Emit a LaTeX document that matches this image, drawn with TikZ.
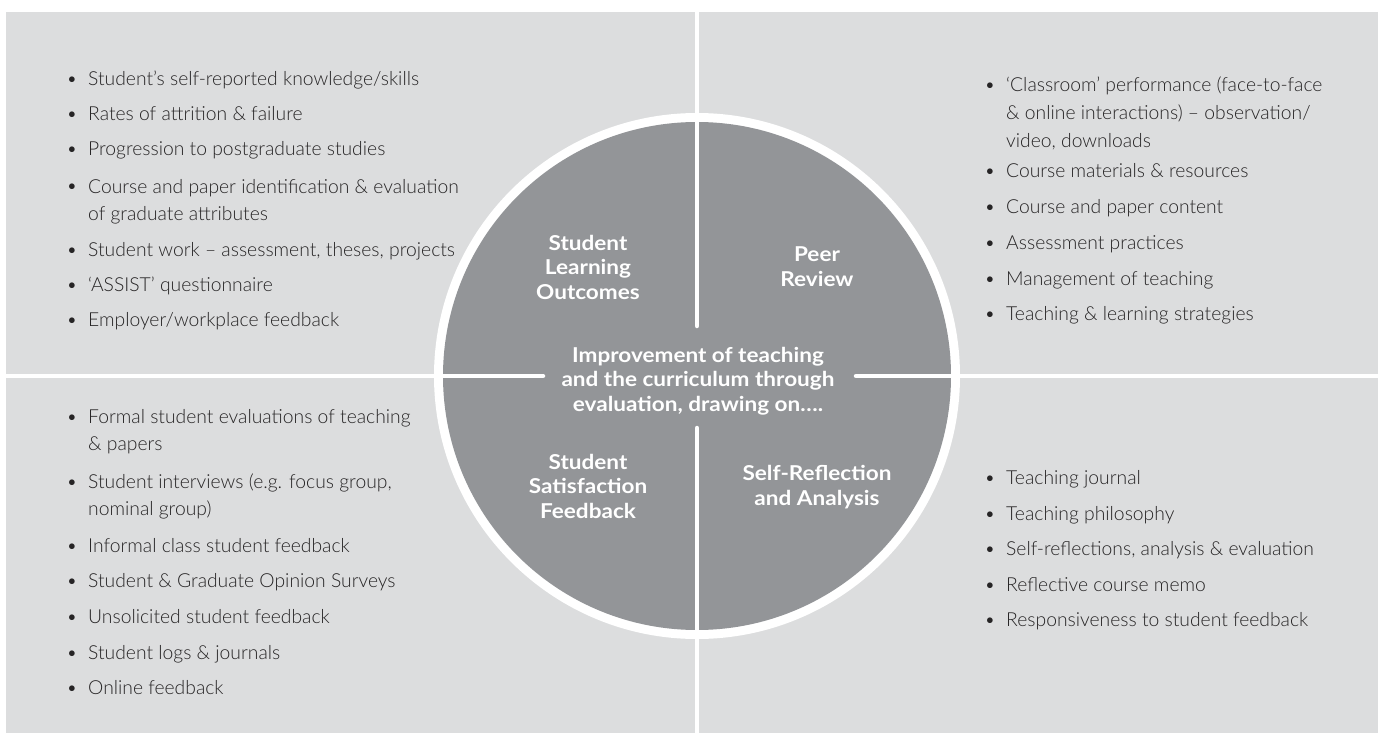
\documentclass[tikz,border=0pt]{standalone}
\usepackage{fontspec}
\setmainfont{Lato}[UprightFont=* Light, BoldFont=* Bold]
\newfontfamily\labelfont{Lato}[UprightFont=* Bold, FakeStretch=1.1]
\definecolor{panelgrey}{HTML}{DCDDDE}
\definecolor{discgrey}{HTML}{939598}
\definecolor{inkgrey}{HTML}{262425}
\tikzset{
  panel/.style={fill=panelgrey, draw=none},
  itemtxt/.style={anchor=base west, inner sep=0pt, align=left, text=inkgrey,
    font=\fontsize{19.3}{27.5}\selectfont},
  bul/.style={anchor=base, inner sep=0pt, text=inkgrey, font=\fontsize{19.3}{27.5}\selectfont},
  seclabel/.style={anchor=base, inner sep=0pt, align=center, text=white,
    font=\labelfont\fontsize{20.5}{24.5}\selectfont},
  divider/.style={white, line width=4.5pt, line cap=round}
}
% one bullet point: name, x, baseline of first line, number of lines, text
\newcommand\bitem[5]{%
  \node[itemtxt] (#1) at (#2,{#3+(#4-1)*27.5}) {#5};
  \node[bul] (#1b) at (#2-16,#3) {\textbullet};}
\begin{document}
\begin{tikzpicture}[x=1pt, y=-1pt]
% page and the four quadrant panels
\fill[white] (0,0) rectangle (1384,733);
\fill[panel] (6,12) rectangle (695,373.5);
\fill[panel] (699,12) rectangle (1378,373.5);
\fill[panel] (6,378) rectangle (695,733);
\fill[panel] (699,378) rectangle (1378,733);

% central disc with white rim and dividing cross
\coordinate (c) at (697,376);
\fill[white] (c) circle[radius=263];
\fill[discgrey] (c) circle[radius=254];
\coordinate (vt) at (697,118);
\coordinate (vtu) at (697,326);
\coordinate (vbl) at (697,428);
\coordinate (vb) at (697,634);
\coordinate (hl) at (438,376);
\coordinate (hlr) at (543,376);
\coordinate (hrl) at (856,376);
\coordinate (hr) at (956,376);
\draw[divider] (vt) -- (vtu);
\draw[divider] (vbl) -- (vb);
\draw[divider] (hl) -- (hlr);
\draw[divider] (hrl) -- (hr);

% labels inside the disc (anchored at the baseline of their last line)
\node[seclabel] (slo) at (588,299) {Student\\Learning\\Outcomes};
\node[seclabel] (peer) at (817,286) {Peer\\Review};
\node[seclabel] (core) at (698,411) {Improvement of teaching\\and the curriculum through\\evaluation, drawing on….};
\node[seclabel] (ssf) at (588,518) {Student\\Satisfaction\\Feedback};
\node[seclabel] (sra) at (817,505) {Self-Reflection\\and Analysis};

% top left: student learning outcomes
\bitem{tl1}{88}{86}{1}{Student’s self-reported knowledge/skills}
\bitem{tl2}{88}{121}{1}{Rates of attrition \& failure}
\bitem{tl3}{88}{156}{1}{Progression to postgraduate studies}
\bitem{tl4}{88}{193}{2}{Course and paper identification \& evaluation\\of graduate attributes}
\bitem{tl5}{88}{256}{1}{Student work – assessment, theses, projects}
\bitem{tl6}{88}{291}{1}{‘ASSIST’ questionnaire}
\bitem{tl7}{88}{326}{1}{Employer/workplace feedback}

% top right: peer review
\bitem{tr1}{1006}{92}{3}{‘Classroom’ performance (face-to-face\\\& online interactions) – observation/\\video, downloads}
\bitem{tr2}{1006}{177}{1}{Course materials \& resources}
\bitem{tr3}{1006}{213}{1}{Course and paper content}
\bitem{tr4}{1006}{249}{1}{Assessment practices}
\bitem{tr5}{1006}{285}{1}{Management of teaching}
\bitem{tr6}{1006}{320}{1}{Teaching \& learning strategies}

% bottom left: student satisfaction feedback
\bitem{bl1}{88}{423}{2}{Formal student evaluations of teaching\\\& papers}
\bitem{bl2}{88}{488}{2}{Student interviews (e.g. focus group,\\nominal group)}
\bitem{bl3}{88}{552}{1}{Informal class student feedback}
\bitem{bl4}{88}{587}{1}{Student \& Graduate Opinion Surveys}
\bitem{bl5}{88}{623}{1}{Unsolicited student feedback}
\bitem{bl6}{88}{659}{1}{Student logs \& journals}
\bitem{bl7}{88}{694}{1}{Online feedback}

% bottom right: self-reflection and analysis
\bitem{br1}{1006}{484}{1}{Teaching journal}
\bitem{br2}{1006}{520}{1}{Teaching philosophy}
\bitem{br3}{1006}{555}{1}{Self-reflections, analysis \& evaluation}
\bitem{br4}{1006}{591}{1}{Reflective course memo}
\bitem{br5}{1006}{626}{1}{Responsiveness to student feedback}
\end{tikzpicture}
\end{document}
